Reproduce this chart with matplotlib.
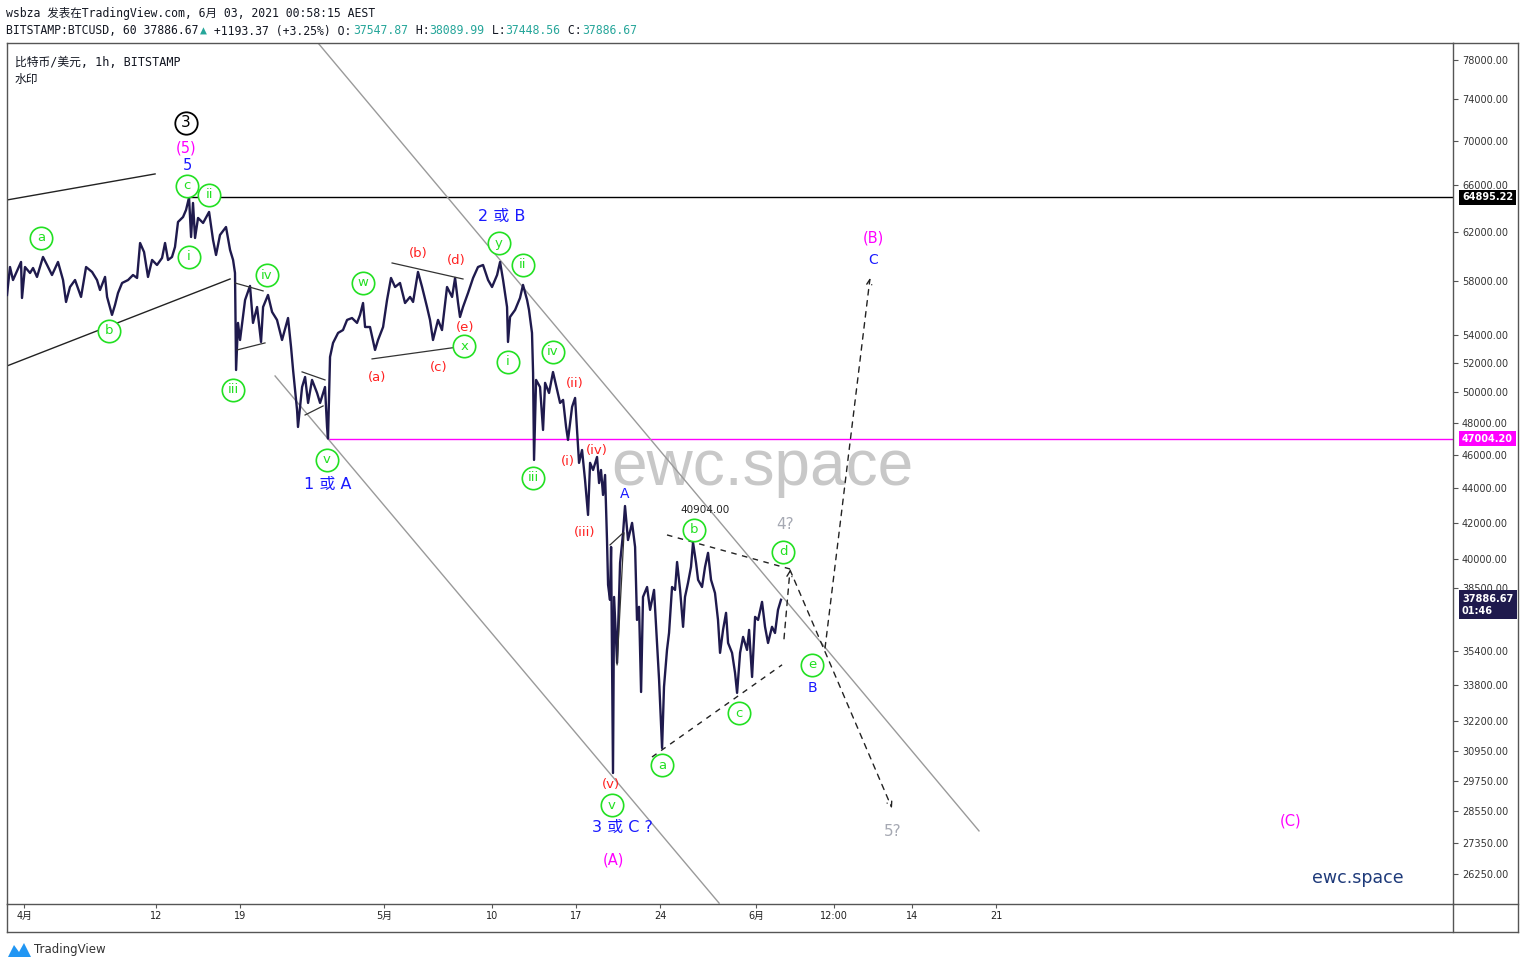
import matplotlib
matplotlib.use('Agg')
import matplotlib.pyplot as plt
from matplotlib.ticker import FixedLocator, NullLocator, FuncFormatter
from matplotlib.lines import Line2D
from matplotlib.patches import Polygon

plt.rcParams['font.family'] = ['DejaVu Sans', 'Noto Sans CJK SC']
MONO = ['DejaVu Sans Mono', 'Noto Sans CJK SC']

# BITSTAMP:BTCUSD 1h. x = days since 1 April 2021
days = [-1.42, -1.17, -0.92, -0.25, -0.17, 0.08, 0.5, 0.75, 1.08, 1.58,
        1.92, 2.33, 2.83, 3.25, 3.5, 3.83, 4.25, 4.75, 5.17, 5.67,
        6.08, 6.33, 6.75, 6.92, 7.33, 7.58, 7.83, 8.17, 8.67, 9.08,
        9.42, 9.67, 10.0, 10.33, 10.67, 11.08, 11.5, 11.75, 12.0, 12.33,
        12.58, 12.83, 13.25, 13.5, 13.75, 13.92, 14.08, 14.25, 14.5, 14.92,
        15.42, 15.75, 16.0, 16.33, 16.83, 17.17, 17.42, 17.58, 17.67, 17.83,
        18.0, 18.42, 18.83, 19.08, 19.42, 19.75, 19.92, 20.33, 20.67, 21.08,
        21.5, 22.0, 22.25, 22.42, 22.75, 22.83, 23.17, 23.42, 23.67, 24.0,
        24.42, 24.67, 25.08, 25.25, 25.33, 25.5, 25.75, 26.17, 26.58, 26.92,
        27.33, 27.75, 28.0, 28.25, 28.42, 28.83, 29.25, 29.5, 29.92, 30.25,
        30.58, 30.92, 31.33, 31.75, 32.17, 32.42, 32.83, 33.17, 33.58, 33.83,
        34.08, 34.5, 34.83, 35.25, 35.67, 35.92, 36.17, 36.33, 36.58, 37.0,
        37.42, 37.83, 38.25, 38.67, 39.0, 39.42, 39.67, 39.92, 40.25, 40.33,
        40.5, 40.92, 41.33, 41.58, 41.92, 42.08, 42.33, 42.42, 42.5, 42.67,
        43.0, 43.25, 43.42, 43.75, 44.08, 44.42, 44.67, 44.92, 45.17, 45.33,
        45.67, 45.92, 46.08, 46.25, 46.5, 46.75, 47.0, 47.17, 47.42, 47.75,
        47.92, 48.08, 48.25, 48.42, 48.58, 48.67, 48.83, 48.92, 49.08, 49.17,
        49.42, 49.67, 49.92, 50.08, 50.33, 50.67, 50.92, 51.08, 51.25, 51.42,
        51.58, 51.92, 52.17, 52.5, 52.75, 52.92, 53.17, 53.33, 53.58, 53.75,
        54.0, 54.25, 54.42, 54.67, 54.92, 55.08, 55.33, 55.58, 55.75, 56.0,
        56.17, 56.5, 56.75, 57.0, 57.25, 57.58, 57.83, 58.0, 58.25, 58.5,
        58.67, 59.0, 59.25, 59.42, 59.67, 59.92, 60.25, 60.42, 60.67, 60.92,
        61.17, 61.5, 61.75, 62.0, 62.33, 62.58, 62.83, 63.08]
prices = [56960, 59130, 58110, 59530, 56730, 59130, 58660, 59050, 58350, 59930,
          59290, 58500, 59530, 58110, 56430, 57570, 58110, 56810, 59130, 58740,
          58110, 57340, 58350, 56810, 55460, 56200, 57110, 57880, 58110, 58500,
          58270, 61060, 60330, 58350, 59690, 59290, 59850, 61060, 59690, 59930,
          60740, 62800, 63220, 63820, 64895, 61550, 64420, 61470, 63140, 62720,
          63650, 61310, 60090, 61720, 62380, 60490, 59690, 58660, 51520, 54870,
          53630, 56580, 57650, 54870, 56050, 53490, 56050, 56960, 55680, 55090,
          53630, 55230, 53130, 51520, 48840, 47740, 50360, 51040, 49300, 50840,
          49960, 49300, 50360, 47740, 47004, 52430, 53420, 54140, 54350, 55090,
          55230, 54870, 55460, 56350, 54570, 54570, 52920, 53630, 54570, 56580,
          58270, 57570, 57880, 56350, 56810, 56430, 58740, 57570, 56050, 55090,
          53630, 55090, 54350, 57570, 56810, 58270, 56350, 55310, 56050, 57110,
          58270, 59130, 59290, 58110, 57570, 58500, 59530, 58110, 56050, 53490,
          55310, 55830, 56730, 57730, 56580, 55830, 54140, 51320, 45680, 50840,
          50360, 47550, 50640, 49960, 51380, 50160, 49300, 49500, 47740, 46920,
          49040, 49630, 47550, 45500, 46290, 44470, 42440, 45500, 45070, 45860,
          44290, 45070, 43590, 44770, 41040, 38650, 37880, 40660, 30050, 38030,
          34820, 39800, 41430, 42950, 41040, 41990, 40660, 36880, 37530, 33490,
          38030, 38540, 37380, 38390, 35760, 34040, 31070, 33720, 35430, 36240,
          38540, 38390, 39850, 38390, 36540, 38030, 38750, 39590, 40904, 39800,
          38910, 38540, 39590, 40340, 38910, 38230, 36880, 35290, 36390, 37230,
          35760, 35290, 34360, 33450, 35290, 36050, 35430, 36390, 34170, 37030,
          36880, 37780, 36540, 35760, 36540, 36240, 37380, 37886.67]

price_ticks = [78000, 74000, 70000, 66000, 62000, 58000, 54000, 52000, 50000,
               48000, 46000, 44000, 42000, 40000, 38500, 35400, 33800, 32200,
               30950, 29750, 28550, 27350, 26250]
date_ticks = [0, 11, 18, 30, 39, 46, 53, 61, 67.5, 74, 81]
date_labels = ['4月', '12', '19', '5月', '10', '17', '24', '6月', '12:00', '14', '21']

peak_level = 64895.22
low_level = 47004.20
last_price = 37886.67

# wave counts: (text, day, price)
green_waves = [('a', 1.42, 61470), ('b', 7.08, 54280), ('c', 13.58, 65900),
               ('ii', 15.42, 65110), ('i', 13.75, 59930), ('iv', 20.25, 58500),
               ('iii', 17.42, 50160), ('v', 25.25, 45680), ('w', 28.25, 57880),
               ('x', 36.67, 53200), ('y', 39.58, 61060), ('ii', 41.58, 59290),
               ('i', 40.33, 52080), ('iv', 44.08, 52780), ('iii', 42.42, 44590),
               ('v', 49.0, 28790), ('a', 53.17, 30370), ('b', 55.83, 41600),
               ('c', 59.58, 32560), ('d', 63.25, 40390), ('e', 65.67, 34730)]
red_waves = [('(b)', 32.83, 60170), ('(d)', 36.0, 59610), ('(e)', 36.75, 54500),
             ('(a)', 29.42, 50980), ('(c)', 34.58, 51660), ('(ii)', 45.92, 50570),
             ('(i)', 45.33, 45560), ('(iv)', 47.75, 46290), ('(iii)', 46.75, 41430),
             ('(v)', 48.92, 29610)]
blue_waves = [('5', 13.58, 67690, 10.5), ('2 或 B', 39.83, 63300, 11.5),
              ('1 或 A', 25.33, 44180, 11.5), ('A', 50.08, 43650, 10),
              ('3 或 C ?', 49.83, 27920, 11.5), ('B', 65.67, 33680, 10),
              ('C', 70.75, 59690, 10)]
magenta_waves = [('(5)', 13.5, 69340), ('(A)', 49.08, 26750),
                 ('(B)', 70.75, 61470), ('(C)', 105.58, 28180)]
gray_waves = [('4?', 63.42, 41880), ('5?', 72.42, 27770)]

W, H = 1525, 969
fig = plt.figure(figsize=(W / 100, H / 100), dpi=100)
fig.patch.set_facecolor('white')


def fx(x):
    return x / W


def fy(y):
    return 1 - y / H


ax = fig.add_axes([fx(7), fy(904), fx(1453) - fx(7), fy(43) - fy(904)])
ax.set_yscale('log')
ax.set_xlim(-1.42, 119.08)
ax.set_ylim(25220, 79790)

ax.plot(days, prices, color='#1f1a4d', lw=1.7, zorder=3)

# drawings
ax.hlines(peak_level, 13.67, 119.08, color='black', lw=1, zorder=2)
ax.hlines(low_level, 25.33, 119.08, color='#ff00ff', lw=1, zorder=2)
ax.plot([-1.42, 10.92], [64678, 66970], color='#222', lw=1)
ax.plot([-1.42, 17.17], [51800, 58190], color='#222', lw=1)
ax.plot([24.5, 79.58], [79790, 27810], color='#9a9a9a', lw=1)
ax.plot([20.92, 57.92], [51110, 25250], color='#9a9a9a', lw=1)
for xs, ys in [([17.58, 19.92], [57880, 57270]), ([17.75, 20.08], [52920, 53420]),
               ([23.17, 25.08], [51390, 50840]), ([23.42, 24.92], [48510, 49100]),
               ([30.67, 36.58], [59450, 58190]), ([29.0, 36.17], [52290, 53130]),
               ([48.83, 49.92], [40770, 41430]), ([49.42, 50.0], [34730, 41430])]:
    ax.plot(xs, ys, color='#333', lw=0.9, zorder=4)

ax.plot([53.58, 63.83], [41320, 39480], color='#222', lw=1, ls=(0, (4, 4)))
ax.plot([52.33, 63.17], [30700, 34730], color='#222', lw=1, ls=(0, (4, 4)))
arrow = dict(arrowstyle='->', color='#222', lw=1, ls=(0, (4, 4)),
             shrinkA=0, shrinkB=0, mutation_scale=9)
ax.annotate('', xy=(63.83, 39430), xytext=(63.33, 35960), arrowprops=arrow)
ax.annotate('', xy=(72.33, 28670), xytext=(63.83, 39430), arrowprops=arrow)
ax.annotate('', xy=(70.5, 58270), xytext=(66.75, 35520), arrowprops=arrow)

# watermark
ax.text(61.5, 45220, 'ewc.space', fontsize=46, color='#c8c8c8',
        family='Liberation Sans', ha='center', va='center', zorder=1)
ax.text(111.17, 26110, 'ewc.space', fontsize=12.5, color='#1e3a7a',
        ha='center', va='center')
ax.text(56.75, 42720, '40904.00', fontsize=7.5, color='#222',
        ha='center', va='center')

lime = '#22e022'
for t, d, p in green_waves:
    ax.scatter([d], [p], s=260, facecolor='white', edgecolor=lime, lw=1.2, zorder=6)
    ax.text(d, p, t, color=lime, fontsize=9.5, ha='center', va='center', zorder=7)
for t, d, p in red_waves:
    ax.text(d, p, t, color='#ff2020', fontsize=9.5, ha='center', va='center', zorder=7)
for t, d, p, fs in blue_waves:
    ax.text(d, p, t, color='#1a1aff', fontsize=fs, ha='center', va='center', zorder=7)
for t, d, p in magenta_waves:
    ax.text(d, p, t, color='#ff00ff', fontsize=10.5, ha='center', va='center', zorder=7)
for t, d, p in gray_waves:
    ax.text(d, p, t, color='#a6a9b3', fontsize=11, ha='center', va='center', zorder=7)
ax.scatter([13.5], [71700], s=260, facecolor='white', edgecolor='black', lw=1.3, zorder=6)
ax.text(13.5, 71700, '3', color='black', fontsize=11, ha='center', va='center', zorder=7)

# axes styling
for s in ax.spines.values():
    s.set_color('#555')
    s.set_linewidth(1)
ax.yaxis.tick_right()
ax.yaxis.set_major_locator(FixedLocator(price_ticks))
ax.yaxis.set_minor_locator(NullLocator())
ax.yaxis.set_major_formatter(FuncFormatter(lambda v, p: f'{v:.2f}'))
ax.tick_params(axis='y', length=3.5, width=0.8, color='#555', labelsize=7,
               labelcolor='#333', pad=3)
ax.set_xticks(date_ticks)
ax.set_xticklabels(date_labels)
ax.tick_params(axis='x', length=3, width=0.8, color='#555', labelsize=7,
               labelcolor='#222', pad=2)

ytr = ax.get_yaxis_transform()
ax.text(1.0062, peak_level, '64895.22', transform=ytr, fontsize=7, color='white',
        weight='bold', ha='left', va='center',
        bbox=dict(boxstyle='square,pad=0.3', fc='black', ec='none'), zorder=10)
ax.text(1.0062, low_level, '47004.20', transform=ytr, fontsize=7, color='white',
        weight='bold', ha='left', va='center',
        bbox=dict(boxstyle='square,pad=0.3', fc='#ff00ff', ec='none'), zorder=10)
ax.text(1.0062, 38200, '37886.67\n01:46', transform=ytr, fontsize=7, color='white',
        weight='bold', ha='left', va='top', linespacing=1.3,
        bbox=dict(boxstyle='square,pad=0.35', fc='#1f1a4d', ec='none'), zorder=10)

# outer frame of the chart pane
frame = dict(color='#555', lw=1, transform=fig.transFigure)
fig.add_artist(Line2D([fx(7), fx(1518)], [fy(932), fy(932)], **frame))
fig.add_artist(Line2D([fx(1518), fx(1518)], [fy(43), fy(932)], **frame))
fig.add_artist(Line2D([fx(1453), fx(1518)], [fy(43), fy(43)], **frame))
fig.add_artist(Line2D([fx(1453), fx(1453)], [fy(904), fy(932)], **frame))
fig.add_artist(Line2D([fx(7), fx(7)], [fy(904), fy(932)], **frame))
fig.add_artist(Line2D([fx(1453), fx(1518)], [fy(904), fy(904)], **frame))

# header
dark = '#131722'
teal = '#26a69a'
fig.text(fx(6), fy(14), 'wsbza 发表在TradingView.com, 6月 03, 2021 00:58:15 AEST',
         family=MONO, fontsize=8.3, color=dark, va='center')
pieces = [('BITSTAMP:BTCUSD, 60 37886.67', dark), ('▲', teal),
          (' +1193.37 (+3.25%) O:', dark), ('37547.87', teal), (' H:', dark),
          ('38089.99', teal), (' L:', dark), ('37448.56', teal), (' C:', dark),
          ('37886.67', teal)]
adv = 0.602 * 8.3 * 100 / 72
n = 0
for s, c in pieces:
    fig.text(fx(6 + n * adv), fy(31), s, family=MONO, fontsize=8.3, color=c, va='center')
    n += len(s)
fig.text(fx(15), fy(62), '比特币/美元, 1h, BITSTAMP', family=MONO, fontsize=8.5,
         color=dark, va='center')
fig.text(fx(15), fy(79), '水印', family=MONO, fontsize=8.5, color=dark, va='center')

# TradingView logo
fig.add_artist(Polygon([(fx(8), fy(957)), (fx(14), fy(945)), (fx(19), fy(952)),
                        (fx(24), fy(943)), (fx(31), fy(957))],
                       closed=True, fc='#2196f3', ec='none', transform=fig.transFigure))
fig.text(fx(34), fy(950), 'TradingView', fontsize=8.5, color='#333', va='center')

fig.savefig('out.png', dpi=100, facecolor='white')
